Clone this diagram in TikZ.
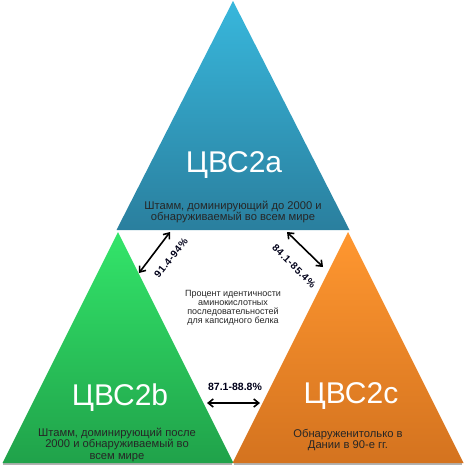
\documentclass[tikz,border=0pt]{standalone}
\usepackage{fontspec}
\setmainfont{Liberation Sans}
\newfontfamily\spacedfont[LetterSpace=6]{Liberation Sans}
\usetikzlibrary{arrows.meta}
\definecolor{blueT}{HTML}{38B7DC}
\definecolor{blueB}{HTML}{2A7F9E}
\definecolor{greenT}{HTML}{33E56A}
\definecolor{greenB}{HTML}{20A24A}
\definecolor{orangeT}{HTML}{FF9730}
\definecolor{orangeB}{HTML}{D4731F}
\tikzset{
  title/.style={text=white, font=\fontsize{30}{32}\selectfont, inner sep=0pt},
  sub/.style={text=black!85, font=\fontsize{11.2}{11.8}\selectfont, align=center, inner sep=0pt},
  pct/.style={text=black!90!blue, font=\bfseries\fontsize{10.5}{11}\selectfont, inner sep=0pt},
  rpct/.style={text=black!90!blue, font=\spacedfont\bfseries\fontsize{10}{11}\selectfont, inner sep=0pt},
  dbl/.style={{Straight Barb[length=5pt,width=8pt]}-{Straight Barb[length=5pt,width=8pt]}, line width=1.6pt, black},
  shadowline/.style={draw=black!30, line width=1.5pt}
}
\begin{document}
\begin{tikzpicture}[x=1pt,y=-1pt]
\useasboundingbox (0,0) rectangle (467,469);
% shadows
\draw[shadowline] (3,464) -- (232,464);
\draw[shadowline] (234,464) -- (462,464);
% triangles
\shade[top color=blueT, bottom color=blueB] (233,1) -- (349.5,230) -- (116.5,230) -- cycle;
\shade[top color=greenT, bottom color=greenB] (118,232) -- (233.5,463) -- (2.5,463) -- cycle;
\shade[top color=orangeT, bottom color=orangeB] (348,232) -- (463.5,463) -- (232.5,463) -- cycle;
% texts
\node[title] (ta) at (234,165) {ЦВС2a};
\node[sub] (sa) at (233,212) {Штамм, доминирующий до 2000 и\\обнаруживаемый во всем мире};
\node[title] (tb) at (120,398) {ЦВС2b};
\node[sub] (sb) at (117,445) {Штамм, доминирующий после\\2000 и обнаруживаемый во\\всем мире};
\node[title] (tc) at (351,396) {ЦВС2c};
\node[sub] (sc) at (348,440) {Обнаруженитолько в\\Дании в 90-е гг.};
\node[text=black!85, font=\fontsize{9}{9}\selectfont, align=center, inner sep=0pt] (mid) at (233,308) {Процент идентичности\\аминокислотных\\последовательностей\\для капсидного белка};
% arrows
\coordinate (a1) at (170,232);
\coordinate (a2) at (139,273);
\draw[dbl] (a1) -- (a2);
\node[rpct, rotate=51] (p1) at (171,258) {91.4-94\%};
\coordinate (b1) at (287,232);
\coordinate (b2) at (323,267);
\draw[dbl] (b1) -- (b2);
\node[rpct, rotate=-45] (p2) at (294,266) {84.1-85.4\%};
\coordinate (c1) at (207,403);
\coordinate (c2) at (260,403);
\draw[dbl] (c1) -- (c2);
\node[pct] (p3) at (235,387) {87.1-88.8\%};
\end{tikzpicture}
\end{document}
